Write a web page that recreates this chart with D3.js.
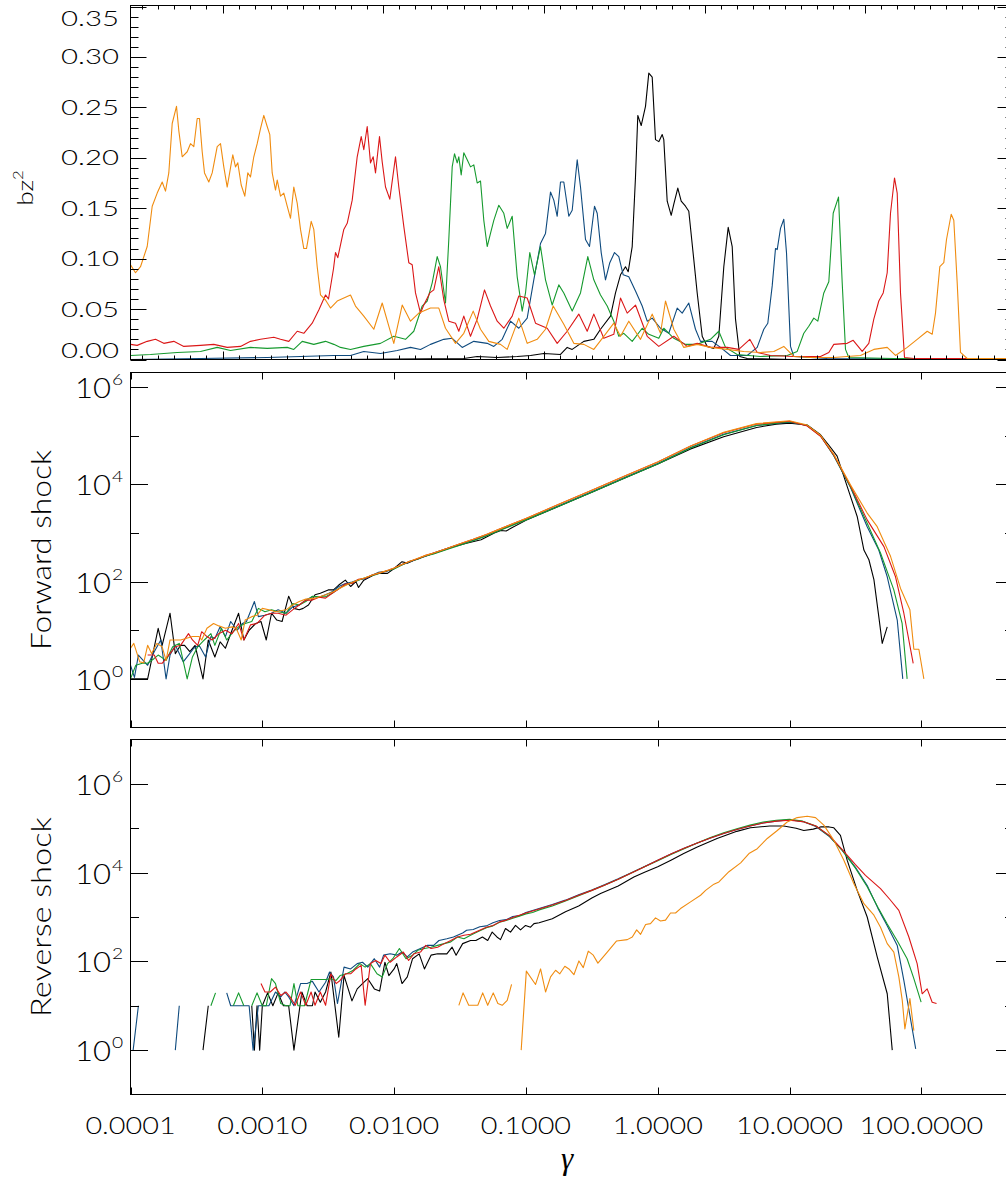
<!DOCTYPE html>
<html><head><meta charset="utf-8">
<script src="https://cdn.jsdelivr.net/npm/d3@7"></script>
<style>body{margin:0;background:#fff}svg{display:block}text{font-family:Lato,"DejaVu Sans",sans-serif;font-weight:300;fill:#000}</style>
</head><body>
<script>
// ---------------- DATA ----------------
// Top panel: bz^2 profiles, [position (grid units), bz^2]
const bzOrange=[[0,0.094],[5,0.086],[10,0.092],[16.7,0.112],[21.7,0.152],[26.7,0.165],[31.7,0.176],[35,0.167],[38.3,0.185],[41.7,0.234],[46,0.251],[48.3,0.227],[51.7,0.201],[56.7,0.206],[60,0.214],[63.3,0.211],[66.7,0.239],[69,0.239],[71.7,0.206],[74,0.185],[78.3,0.176],[81.7,0.185],[86.7,0.211],[90,0.214],[93.3,0.191],[96.7,0.171],[100,0.190],[102.3,0.203],[105,0.191],[107.3,0.195],[110.7,0.173],[114.3,0.162],[117.3,0.185],[120,0.181],[123.3,0.201],[126.7,0.214],[130,0.229],[133.3,0.242],[136.7,0.231],[139.3,0.223],[141.7,0.185],[145,0.168],[146.7,0.178],[150,0.162],[153.3,0.165],[156.7,0.152],[160,0.140],[163.3,0.171],[166.7,0.155],[170,0.129],[173.3,0.110],[176,0.110],[180.7,0.137],[183.3,0.129],[186.7,0.092],[190,0.064],[195,0.059],[200,0.051],[206.7,0.058],[220,0.064],[225,0.053],[233.3,0.043],[243.3,0.030],[251.7,0.056],[258.3,0.033],[263.3,0.016],[271.7,0.054],[280,0.038],[288.3,0.046],[300,0.051],[308.3,0.051],[315,0.031],[325,0.016],[333.3,0.026],[342.7,0.048],[350,0.030],[358.3,0.018],[370,0.015],[376.7,0.010],[388.3,0.041],[396.7,0.016],[406.7,0.020],[415,0.030],[422.7,0.053],[433.3,0.035],[443.3,0.016],[453.3,0.015],[463.3,0.010],[473.3,0.023],[483.3,0.036],[490,0.023],[498.3,0.038],[510,0.020],[521.7,0.045],[530,0.026],[535,0.058],[543.3,0.030],[553.3,0.012],[566.7,0.015],[580,0.012],[596.7,0.010],[613.3,0.008],[630,0.007],[643.3,0.008],[653.3,0.013],[663.3,0.003],[680,0.002],[703.3,0.002],[730,0.004],[743.3,0.010],[756.7,0.012],[765,0.004],[776.7,0.012],[786.7,0.020],[796.7,0.028],[801.7,0.025],[805,0.046],[809.3,0.092],[813.3,0.096],[816,0.119],[820.7,0.144],[823.3,0.138],[826.7,0.076],[830,0.007],[836.7,0.001],[883,0.001]];
const bzRed=[[0,0.015],[6.7,0.014],[16.7,0.018],[25,0.020],[33.3,0.016],[43.3,0.018],[53.3,0.013],[70,0.014],[83.3,0.015],[96.7,0.012],[110,0.013],[120,0.018],[130,0.020],[143.3,0.022],[150,0.020],[158.3,0.018],[166.7,0.028],[173.3,0.026],[181.7,0.036],[188.3,0.049],[195,0.064],[198,0.060],[203,0.090],[205,0.106],[207.3,0.101],[213.3,0.129],[216.7,0.135],[221.7,0.158],[226.7,0.201],[230.7,0.221],[233.3,0.208],[236.7,0.231],[240,0.195],[242.7,0.201],[245,0.185],[249,0.221],[251.7,0.196],[255,0.171],[259.3,0.159],[265,0.201],[268.3,0.171],[273.3,0.132],[278.3,0.096],[281.7,0.094],[285,0.066],[290,0.046],[293.3,0.054],[299.3,0.066],[303.3,0.069],[308.3,0.092],[313.3,0.059],[318.3,0.038],[325,0.036],[328.3,0.028],[333.3,0.043],[340,0.023],[346.7,0.040],[354,0.069],[360,0.053],[366.7,0.038],[373.3,0.031],[381.7,0.043],[388.3,0.063],[396.7,0.061],[405,0.036],[416.7,0.031],[426.7,0.016],[436.7,0.028],[448.3,0.045],[456.7,0.028],[463.3,0.045],[473.3,0.021],[483.3,0.025],[490,0.061],[496.7,0.046],[505,0.054],[516.7,0.023],[528.3,0.013],[543.3,0.023],[556.7,0.013],[566.7,0.016],[580,0.012],[596.7,0.012],[608.3,0.010],[619.3,0.020],[626.7,0.007],[640,0.004],[663.3,0.003],[690,0.003],[698.3,0.007],[703.3,0.015],[716.7,0.016],[722.7,0.019],[731.7,0.008],[738.3,0.016],[743.3,0.040],[748.3,0.058],[752.7,0.066],[756.7,0.086],[760,0.145],[764,0.180],[766.7,0.165],[770,0.066],[774,0.002],[783.3,0.001],[883,0.001]];
const bzGreen=[[0,0.004],[20,0.005],[46.7,0.007],[70,0.008],[86.7,0.012],[100,0.009],[120,0.012],[136.7,0.011],[156.7,0.012],[163.3,0.010],[171.7,0.018],[183.3,0.015],[195,0.018],[203.3,0.015],[210,0.012],[220,0.010],[233.3,0.013],[250,0.016],[263.3,0.023],[275,0.020],[283.3,0.028],[291.7,0.053],[296.7,0.058],[301.7,0.076],[306.7,0.102],[310,0.092],[315,0.056],[318.3,0.119],[321.7,0.191],[324,0.204],[326.7,0.195],[328.3,0.201],[330.7,0.183],[333.3,0.205],[336.7,0.198],[340,0.191],[343.3,0.193],[346.7,0.175],[350,0.177],[353.3,0.138],[356.7,0.112],[360,0.125],[363.3,0.138],[368.3,0.153],[373.3,0.145],[376.7,0.130],[381.7,0.142],[386.7,0.082],[391.7,0.048],[395,0.066],[399.3,0.106],[404,0.084],[410,0.112],[415,0.079],[421.7,0.054],[428.3,0.074],[433.3,0.066],[441.7,0.048],[450,0.066],[457.3,0.102],[463.3,0.079],[470,0.064],[476.7,0.053],[483.3,0.038],[488.3,0.023],[493.3,0.026],[501.7,0.018],[511.7,0.031],[518.3,0.025],[528.3,0.021],[533.3,0.031],[543.3,0.021],[555,0.015],[566.7,0.015],[580,0.020],[588.3,0.028],[595,0.012],[606.7,0.005],[630,0.003],[656.7,0.004],[666.7,0.008],[673.3,0.026],[678.3,0.033],[683.3,0.041],[687.3,0.038],[693.3,0.066],[698.3,0.077],[702.7,0.145],[708,0.161],[711.7,0.076],[715,0.010],[718.3,0.002],[763.3,0.001],[883,0.001]];
const bzBlue=[[0,0.0],[70,0.001],[136.7,0.002],[203.3,0.004],[220,0.004],[233.3,0.008],[250,0.006],[266.7,0.009],[280,0.012],[290,0.010],[300,0.015],[313.3,0.020],[321.7,0.021],[331.7,0.012],[343.3,0.018],[356.7,0.016],[363.3,0.013],[371.7,0.020],[380,0.038],[388.3,0.031],[396.7,0.041],[403.3,0.079],[410,0.115],[415,0.125],[420,0.166],[423.3,0.158],[426.7,0.142],[430,0.176],[433.3,0.176],[438.3,0.142],[441.7,0.148],[446.7,0.198],[450,0.171],[455,0.119],[459,0.112],[464,0.152],[466.7,0.145],[470.7,0.106],[475,0.079],[479.3,0.096],[484,0.106],[488.3,0.102],[492.7,0.084],[498.3,0.082],[505,0.068],[511.7,0.053],[516.7,0.038],[521.7,0.041],[530,0.031],[538.3,0.026],[546.7,0.051],[551.7,0.046],[558.3,0.056],[565,0.030],[570,0.018],[581.7,0.018],[590,0.012],[600,0.004],[616.7,0.004],[626.7,0.012],[633.3,0.030],[637.3,0.036],[641.7,0.073],[645,0.110],[646.7,0.109],[650,0.130],[653.3,0.139],[656,0.106],[660,0.013],[663.3,0.003],[696.7,0.001],[883,0.0]];
const bzBlack=[[0,0.0],[200,0.0],[333.3,0.001],[346.7,0.003],[366.7,0.002],[386.7,0.003],[400,0.004],[413.3,0.006],[430,0.005],[436.7,0.012],[441.7,0.010],[453.3,0.018],[463.3,0.020],[470,0.030],[480,0.043],[485,0.066],[490,0.084],[495,0.092],[497.7,0.087],[501.7,0.112],[505,0.181],[507.3,0.242],[510.7,0.232],[515,0.251],[518.3,0.284],[521.7,0.280],[525,0.218],[528.3,0.216],[531.7,0.223],[533.3,0.218],[536.7,0.157],[540.7,0.143],[543.3,0.154],[547.3,0.170],[550.7,0.157],[555,0.152],[558.3,0.147],[563.3,0.099],[566.7,0.066],[571.7,0.023],[576.7,0.013],[583.3,0.011],[588.3,0.023],[593.3,0.092],[597.7,0.131],[601.7,0.112],[605,0.040],[609.3,0.003],[616.7,0.001],[663.3,0.0],[883,0.0]];

// Forward shock spectra: [log10 gamma, log10 N]
const fsBlack=[[-4.00,0],[-3.95,0],[-3.90,0],[-3.87,0],[-3.79,1.04],[-3.76,0.69],[-3.70,1.35],[-3.66,0.52],[-3.62,0.69],[-3.59,0.69],[-3.55,0.56],[-3.51,0.69],[-3.45,0.0],[-3.41,0.80],[-3.36,0.45],[-3.32,0.76],[-3.28,0.63],[-3.23,1.0],[-3.18,1.35],[-3.14,0.80],[-3.10,1.0],[-3.05,1.14],[-3.01,1.18],[-2.97,0.80],[-2.93,1.35],[-2.89,1.21],[-2.85,1.18],[-2.80,1.70],[-2.76,1.45],[-2.72,1.42],[-2.69,1.45],[-2.65,1.52],[-2.60,1.73],[-2.56,1.76],[-2.50,1.83],[-2.46,1.83],[-2.42,1.93],[-2.37,2.03],[-2.33,1.90],[-2.29,2.0],[-2.27,1.88],[-2.23,2.03],[-2.18,2.10],[-2.13,2.17],[-2.05,2.17],[-2.00,2.27],[-1.94,2.41],[-1.90,2.38],[-1.84,2.45],[-1.77,2.52],[-1.70,2.58],[-1.62,2.65],[-1.55,2.72],[-1.45,2.79],[-1.34,2.86],[-1.24,3.0],[-1.19,3.05],[-1.15,3.04],[-1.10,3.12],[-1.0,3.26],[-0.75,3.55],[-0.5,3.84],[-0.25,4.13],[0,4.42],[0.25,4.73],[0.5,4.98],[0.75,5.17],[0.9,5.24],[1.0,5.26],[1.134,5.22],[1.235,5.02],[1.30,4.80],[1.361,4.58],[1.437,3.96],[1.513,3.34],[1.564,2.65],[1.602,2.45],[1.640,2.04],[1.677,1.28],[1.703,0.73],[1.741,1.07]];
const fsBlue=[[-4.00,0.28],[-3.97,0.03],[-3.94,0.49],[-3.87,0.28],[-3.82,0.56],[-3.77,0.80],[-3.73,0.0],[-3.70,0.49],[-3.66,0.69],[-3.60,0.35],[-3.56,0.49],[-3.52,0.63],[-3.48,0.69],[-3.43,0.45],[-3.39,0.87],[-3.36,0.83],[-3.32,1.07],[-3.28,0.87],[-3.24,1.18],[-3.19,1.0],[-3.15,1.14],[-3.12,1.18],[-3.06,1.59],[-3.03,1.28],[-2.98,1.31],[-2.93,1.35],[-2.88,1.42],[-2.82,1.35],[-2.77,1.48],[-2.72,1.52],[-2.67,1.62],[-2.62,1.69],[-2.57,1.68],[-2.52,1.73],[-2.47,1.79],[-2.42,1.90],[-2.37,1.96],[-2.32,1.99],[-2.27,2.04],[-2.22,2.06],[-2.17,2.13],[-2.12,2.19],[-2.06,2.21],[-2.00,2.27],[-1.94,2.35],[-1.88,2.41],[-1.82,2.47],[-1.76,2.52],[-1.70,2.59],[-1.60,2.68],[-1.50,2.77],[-1.40,2.85],[-1.30,2.95],[-1.20,3.06],[-1.0,3.28],[-0.75,3.56],[-0.5,3.85],[-0.25,4.14],[0,4.43],[0.25,4.76],[0.5,5.03],[0.75,5.21],[1.0,5.28],[1.134,5.21],[1.235,5.00],[1.336,4.59],[1.462,3.94],[1.589,3.13],[1.677,2.65],[1.741,2.10],[1.817,1.21],[1.859,0.0]];
const fsGreen=[[-4.00,0],[-3.96,0.28],[-3.91,0.32],[-3.87,0.32],[-3.82,0.42],[-3.79,0.49],[-3.73,0.38],[-3.68,0.66],[-3.63,0.73],[-3.57,0],[-3.53,0.45],[-3.49,0.66],[-3.44,0.80],[-3.39,0.93],[-3.36,0.69],[-3.31,1.04],[-3.27,0.80],[-3.22,0.97],[-3.18,1.07],[-3.13,1.14],[-3.08,1.18],[-3.03,1.45],[-2.98,1.38],[-2.93,1.42],[-2.88,1.38],[-2.82,1.35],[-2.77,1.55],[-2.72,1.52],[-2.67,1.59],[-2.62,1.70],[-2.57,1.69],[-2.52,1.69],[-2.47,1.76],[-2.42,1.86],[-2.37,1.93],[-2.32,1.97],[-2.27,2.03],[-2.22,2.08],[-2.17,2.12],[-2.12,2.16],[-2.06,2.22],[-2.00,2.26],[-1.94,2.34],[-1.88,2.42],[-1.82,2.46],[-1.76,2.53],[-1.70,2.57],[-1.60,2.66],[-1.50,2.75],[-1.40,2.84],[-1.30,2.94],[-1.20,3.05],[-1.0,3.27],[-0.75,3.55],[-0.5,3.84],[-0.25,4.13],[0,4.42],[0.25,4.75],[0.5,5.02],[0.75,5.21],[1.0,5.29],[1.134,5.21],[1.235,5.00],[1.336,4.59],[1.462,3.95],[1.589,3.20],[1.690,2.59],[1.791,1.83],[1.854,1.14],[1.892,0]];
const fsRed=[[-3.87,0.49],[-3.82,0.49],[-3.79,0.32],[-3.76,0.32],[-3.71,0.49],[-3.66,0.66],[-3.62,0.69],[-3.56,0.93],[-3.53,0.80],[-3.49,0.69],[-3.46,0.97],[-3.42,0.87],[-3.38,0.80],[-3.33,0.93],[-3.28,1.0],[-3.23,0.93],[-3.18,1.14],[-3.14,0.80],[-3.09,1.11],[-3.04,1.14],[-2.98,1.31],[-2.93,1.35],[-2.88,1.35],[-2.82,1.31],[-2.77,1.42],[-2.72,1.52],[-2.67,1.62],[-2.62,1.62],[-2.57,1.68],[-2.52,1.66],[-2.47,1.76],[-2.42,1.85],[-2.37,1.95],[-2.32,1.96],[-2.27,2.05],[-2.22,2.07],[-2.17,2.13],[-2.12,2.17],[-2.06,2.22],[-2.00,2.28],[-1.94,2.35],[-1.88,2.42],[-1.82,2.47],[-1.76,2.54],[-1.70,2.59],[-1.60,2.68],[-1.50,2.78],[-1.40,2.87],[-1.30,2.97],[-1.20,3.08],[-1.0,3.30],[-0.75,3.59],[-0.5,3.88],[-0.25,4.17],[0,4.46],[0.25,4.79],[0.5,5.06],[0.75,5.24],[1.0,5.30],[1.134,5.20],[1.235,4.99],[1.336,4.60],[1.462,3.97],[1.589,3.27],[1.716,2.72],[1.804,2.10],[1.867,1.35],[1.938,0.32]];
const fsOrange=[[-4.00,0.63],[-3.975,0.73],[-3.93,0.35],[-3.90,0.33],[-3.87,0.69],[-3.84,0.52],[-3.80,0.73],[-3.76,0.66],[-3.73,0.38],[-3.70,0.80],[-3.66,0.80],[-3.62,0.80],[-3.58,0.83],[-3.53,0.87],[-3.48,0.87],[-3.46,0.80],[-3.42,1.04],[-3.37,1.14],[-3.33,1.09],[-3.28,1.04],[-3.23,1.07],[-3.20,1.05],[-3.16,0.80],[-3.13,1.21],[-3.08,1.28],[-3.04,1.31],[-3.00,1.45],[-2.95,1.42],[-2.90,1.38],[-2.82,1.42],[-2.77,1.52],[-2.72,1.59],[-2.67,1.64],[-2.60,1.66],[-2.52,1.73],[-2.46,1.79],[-2.40,1.88],[-2.34,1.96],[-2.28,2.03],[-2.22,2.08],[-2.16,2.14],[-2.10,2.19],[-2.04,2.24],[-2.00,2.28],[-1.94,2.35],[-1.88,2.42],[-1.82,2.48],[-1.76,2.54],[-1.70,2.59],[-1.60,2.68],[-1.50,2.78],[-1.40,2.87],[-1.30,2.97],[-1.20,3.08],[-1.0,3.30],[-0.75,3.59],[-0.5,3.88],[-0.25,4.17],[0,4.46],[0.25,4.79],[0.5,5.07],[0.75,5.25],[1.0,5.31],[1.134,5.22],[1.235,5.01],[1.336,4.62],[1.462,3.99],[1.589,3.41],[1.665,3.13],[1.766,2.52],[1.842,1.86],[1.913,1.42],[1.943,0.61],[1.981,0.61],[2.019,0]];

// Reverse shock spectra: [log10 gamma, log10 N]; null = empty bins (gap)
const rsBlack=[[-3.45,0],[-3.41,1.0],null,[-3.08,1.0],[-3.06,0],[-3.04,1.0],[-3.02,0],[-3.00,1.0],[-2.96,1.29],[-2.92,1.0],[-2.88,1.29],[-2.84,1.0],[-2.80,1.0],[-2.76,0],[-2.70,1.31],[-2.66,1.0],[-2.62,1.0],[-2.60,1.31],[-2.56,1.08],[-2.52,1.31],[-2.48,1.76],[-2.42,0.29],[-2.38,1.68],[-2.32,1.11],[-2.28,1.38],[-2.24,1.50],[-2.20,1.61],[-2.15,1.38],[-2.11,1.33],[-2.07,1.98],[-2.04,1.68],[-2.00,1.83],[-1.98,1.95],[-1.94,1.50],[-1.90,1.65],[-1.86,2.06],[-1.81,2.17],[-1.77,1.83],[-1.72,2.14],[-1.67,2.17],[-1.60,2.17],[-1.56,2.32],[-1.53,2.14],[-1.48,2.40],[-1.42,2.47],[-1.38,2.47],[-1.33,2.55],[-1.29,2.47],[-1.256,2.66],[-1.22,2.55],[-1.193,2.49],[-1.155,2.74],[-1.117,2.66],[-1.079,2.81],[-1.041,2.71],[-1.003,2.81],[-0.965,2.77],[-0.939,2.85],[-0.9,2.87],[-0.8,2.96],[-0.7,3.12],[-0.6,3.25],[-0.5,3.43],[-0.434,3.53],[-0.3,3.70],[-0.181,3.90],[-0.1,4.01],[0,4.13],[0.1,4.28],[0.197,4.43],[0.3,4.58],[0.45,4.77],[0.6,4.93],[0.703,5.01],[0.85,5.05],[0.956,5.05],[1.05,5.0],[1.108,4.95],[1.18,4.98],[1.235,5.03],[1.30,5.03],[1.336,5.01],[1.386,4.84],[1.437,4.28],[1.513,3.60],[1.589,3.0],[1.665,2.10],[1.741,1.27],[1.779,0.0]];
const rsBlue=[[-3.98,0],[-3.94,1.0],null,[-3.66,0],[-3.63,1.0],null,[-3.27,1.29],[-3.24,1.0],[-3.19,1.0],[-3.15,1.0],[-3.10,1.0],[-3.07,0],[-3.03,1.0],[-2.99,1.0],[-2.95,1.0],[-2.90,1.31],[-2.86,1.20],[-2.83,1.31],[-2.80,1.20],[-2.76,1.0],[-2.71,1.50],[-2.66,1.50],[-2.62,1.55],[-2.57,1.31],[-2.52,1.53],[-2.49,1.76],[-2.46,1.65],[-2.43,1.05],[-2.38,1.87],[-2.33,1.83],[-2.28,1.95],[-2.24,1.98],[-2.20,1.87],[-2.15,2.06],[-2.11,1.87],[-2.08,2.14],[-2.03,2.17],[-1.98,2.14],[-1.94,2.21],[-1.90,2.10],[-1.86,2.21],[-1.80,2.29],[-1.75,2.36],[-1.70,2.36],[-1.66,2.47],[-1.60,2.51],[-1.55,2.55],[-1.48,2.64],[-1.45,2.70],[-1.40,2.72],[-1.35,2.78],[-1.30,2.80],[-1.25,2.87],[-1.20,2.92],[-1.15,2.94],[-1.10,3.01],[-1.05,3.03],[-1.0,3.10],[-0.9,3.19],[-0.8,3.28],[-0.7,3.38],[-0.6,3.50],[-0.5,3.61],[-0.4,3.73],[-0.3,3.86],[-0.2,4.00],[-0.1,4.14],[0,4.28],[0.1,4.42],[0.2,4.55],[0.3,4.67],[0.4,4.78],[0.5,4.88],[0.6,4.97],[0.7,5.05],[0.8,5.12],[0.9,5.16],[1.0,5.19],[1.1,5.15],[1.2,5.04],[1.3,4.82],[1.4,4.50],[1.5,4.12],[1.589,3.71],[1.67,3.20],[1.74,2.81],[1.817,2.36],[1.867,1.57],[1.957,0.03]];
const rsGreen=[[-3.39,1.0],[-3.355,1.29],null,[-3.22,1.0],[-3.18,1.29],[-3.14,1.0],null,[-3.08,1.0],[-3.04,1.29],[-3.00,1.0],[-2.97,1.0],[-2.93,1.61],[-2.90,1.50],[-2.86,1.05],[-2.82,1.0],[-2.79,1.0],[-2.76,1.50],[-2.73,1.0],[-2.68,1.0],[-2.63,1.59],[-2.58,1.59],[-2.52,1.59],[-2.48,1.61],[-2.44,1.57],[-2.41,1.68],[-2.36,1.72],[-2.31,1.80],[-2.26,1.95],[-2.22,1.87],[-2.18,1.95],[-2.13,1.72],[-2.09,1.65],[-2.05,1.95],[-2.01,2.06],[-1.96,2.29],[-1.91,2.06],[-1.86,2.14],[-1.82,2.25],[-1.77,2.29],[-1.72,2.32],[-1.67,2.36],[-1.62,2.40],[-1.57,2.44],[-1.52,2.55],[-1.47,2.51],[-1.42,2.59],[-1.37,2.66],[-1.30,2.76],[-1.25,2.80],[-1.20,2.88],[-1.15,2.92],[-1.10,2.97],[-1.05,3.02],[-1.0,3.07],[-0.95,3.10],[-0.9,3.16],[-0.8,3.25],[-0.7,3.36],[-0.6,3.48],[-0.5,3.60],[-0.4,3.72],[-0.3,3.85],[-0.2,3.99],[-0.1,4.13],[0,4.27],[0.1,4.41],[0.2,4.54],[0.3,4.67],[0.4,4.79],[0.5,4.90],[0.6,4.99],[0.7,5.07],[0.8,5.14],[0.9,5.18],[1.0,5.20],[1.1,5.16],[1.2,5.05],[1.3,4.83],[1.4,4.50],[1.5,4.10],[1.589,3.68],[1.67,3.22],[1.740,2.85],[1.82,2.45],[1.892,2.06],[1.943,1.61],[1.998,1.08]];
const rsRed=[[-3.01,1.50],[-2.98,1.31],[-2.94,1.31],[-2.90,1.42],[-2.86,1.23],[-2.82,1.31],[-2.79,1.20],[-2.75,1.01],[-2.71,1.31],[-2.67,1.01],[-2.63,1.31],[-2.60,1.01],[-2.56,1.31],[-2.52,1.01],[-2.48,1.72],[-2.44,1.50],[-2.41,1.57],[-2.37,1.72],[-2.33,1.72],[-2.29,1.83],[-2.25,1.91],[-2.22,1.01],[-2.18,1.95],[-2.14,2.02],[-2.10,1.95],[-2.07,2.14],[-2.03,1.98],[-1.98,2.10],[-1.93,2.21],[-1.89,2.02],[-1.85,2.17],[-1.80,2.21],[-1.76,2.36],[-1.72,2.29],[-1.67,2.32],[-1.62,2.40],[-1.57,2.47],[-1.52,2.55],[-1.47,2.59],[-1.42,2.61],[-1.36,2.69],[-1.30,2.77],[-1.25,2.81],[-1.20,2.89],[-1.15,2.93],[-1.10,2.99],[-1.05,3.04],[-1.0,3.09],[-0.9,3.18],[-0.8,3.27],[-0.7,3.37],[-0.6,3.49],[-0.5,3.60],[-0.4,3.72],[-0.3,3.85],[-0.2,3.99],[-0.1,4.13],[0,4.28],[0.1,4.42],[0.2,4.55],[0.3,4.67],[0.4,4.78],[0.5,4.88],[0.6,4.97],[0.7,5.05],[0.8,5.12],[0.9,5.16],[1.0,5.18],[1.1,5.15],[1.2,5.05],[1.3,4.84],[1.4,4.52],[1.5,4.18],[1.576,3.94],[1.690,3.64],[1.76,3.40],[1.829,3.15],[1.905,2.55],[1.968,1.95],[2.006,1.27],[2.044,1.38],[2.082,1.08],[2.115,1.05]];
const rsOrange=[[-1.509,1.01],[-1.477,1.29],[-1.434,1.01],[-1.365,1.01],[-1.328,1.29],[-1.290,1.01],[-1.248,1.29],[-1.213,1.05],[-1.180,1.01],[-1.142,1.12],[-1.109,1.48],null,[-1.036,0],[-0.997,1.78],[-0.927,1.48],[-0.889,1.83],[-0.851,1.31],[-0.813,1.65],[-0.775,1.80],[-0.743,1.72],[-0.705,1.89],[-0.674,1.83],[-0.636,1.70],[-0.598,2.01],[-0.565,1.86],[-0.527,2.23],[-0.489,2.14],[-0.454,1.96],[-0.383,2.21],[-0.312,2.46],[-0.231,2.49],[-0.193,2.55],[-0.160,2.71],[-0.130,2.61],[-0.092,2.83],[-0.055,2.85],[-0.017,2.98],[0.021,2.91],[0.059,2.93],[0.097,3.09],[0.135,3.09],[0.173,3.19],[0.249,3.34],[0.325,3.49],[0.363,3.60],[0.426,3.74],[0.464,3.79],[0.540,4.02],[0.629,4.22],[0.692,4.43],[0.755,4.54],[0.831,4.77],[0.907,4.95],[0.982,5.14],[1.058,5.24],[1.134,5.27],[1.197,5.24],[1.260,5.07],[1.336,4.73],[1.412,4.28],[1.488,3.75],[1.564,3.30],[1.640,3.04],[1.690,2.77],[1.741,2.40],[1.791,2.21],[1.829,1.65],[1.855,1.12],[1.875,0.48],[1.913,1.16],[1.943,0.44]];

// Tick values / labels
const topYTicks=[0,0.05,0.10,0.15,0.20,0.25,0.30,0.35];
const logYMajor=[1,1e2,1e4,1e6];
const logYExp=["0","2","4","6"];
const logYMinor=[10,1e3,1e5];
const gammaTicks=[1e-4,1e-3,1e-2,1e-1,1,10,100];
const gammaLabels=["0.0001","0.0010","0.0100","0.1000","1.0000","10.0000","100.0000"];
const colors={black:"#000000",blue:"#0e4a7e",green:"#169a2e",red:"#db1717",orange:"#f08c10"};

// ---------------- DRAW ----------------
const W=1006,H=1180,L=130.5,R=1013.5;
const svg=d3.select("body").append("svg").attr("width",W).attr("height",H);
svg.append("rect").attr("width",W).attr("height",H).attr("fill","#fff");

const xTop=d3.scaleLinear().domain([0,883]).range([L,R]);
const yTop=d3.scaleLinear().domain([0,0.351]).range([359.5,5.5]);
const xLog=d3.scaleLog().domain([1e-4,500]).range([L,R]);
const yFwd=d3.scaleLog().domain([0.1,2e6]).range([727.5,372.5]);
const yRev=d3.scaleLog().domain([0.1,1e7]).range([1094.5,739.5]);

function tick(g,x1,y1,x2,y2){g.append("line").attr("x1",x1).attr("y1",y1).attr("x2",x2).attr("y2",y2).attr("stroke","#000").attr("stroke-width",1);}
function label(g,x,y,str,size,sx,anchor){
  return g.append("text").attr("transform",`translate(${x},${y}) scale(${sx},1)`).attr("text-anchor",anchor).attr("font-size",size).text(str);
}
function clip(id,y0,y1){
  svg.append("clipPath").attr("id",id).append("rect").attr("x",L).attr("y",y0).attr("width",R-L).attr("height",y1-y0);
}

// ---- top panel ----
const gT=svg.append("g");
clip("cT",5.5,359.5);
const lineT=d3.line().x(d=>xTop(d[0])).y(d=>yTop(d[1]));
const topSeries=[[bzBlack,"black"],[bzBlue,"blue"],[bzGreen,"green"],[bzRed,"red"],[bzOrange,"orange"]];
const gTL=gT.append("g").attr("clip-path","url(#cT)");
topSeries.forEach(([d,c])=>gTL.append("path").attr("d",lineT(d)).attr("fill","none").attr("stroke",colors[c]).attr("stroke-width",1.1).attr("stroke-linejoin","round"));
gT.append("rect").attr("x",L).attr("y",5.5).attr("width",R-L).attr("height",354).attr("fill","none").attr("stroke","#000");
d3.range(0,36).forEach(i=>{const v=i*0.01;const y=Math.round(yTop(v))+0.5;const len=(i%5===0)?16:8;
  tick(gT,L,y,L+len,y);tick(gT,R,y,R-len,y);});
topYTicks.forEach(v=>{const y=Math.max(18.8,Math.min(350.8,yTop(v)));label(gT,119,y+7.5,d3.format(".2f")(v),21,1.4,"end");});
d3.range(0,55).forEach(i=>{const u=11.65+i*16.07;if(u>883)return;const x=Math.round(xTop(u))+0.5;const len=(i%10===5)?8:4;
  tick(gT,x,5.5,x,5.5+len);tick(gT,x,359.5,x,359.5-len);});
const tt=gT.append("text").attr("transform","translate(33,188) rotate(-90) scale(1.2,1)").attr("text-anchor","middle").attr("font-size",22);
tt.append("tspan").text("bz");
tt.append("tspan").attr("dy",-10).attr("font-size",14).text("2");

// ---- log panels ----
function logPanel(yScale,y0,y1,data,id,title){
  const g=svg.append("g");
  clip(id,y0,y1);
  const gl=g.append("g").attr("clip-path",`url(#${id})`);
  const line=d3.line().defined(d=>d!==null).x(d=>xLog(10**d[0])).y(d=>yScale(10**d[1]));
  data.forEach(([d,c])=>gl.append("path").attr("d",line(d)).attr("fill","none").attr("stroke",colors[c]).attr("stroke-width",1.1).attr("stroke-linejoin","round"));
  g.append("rect").attr("x",L).attr("y",y0).attr("width",R-L).attr("height",y1-y0).attr("fill","none").attr("stroke","#000");
  logYMajor.forEach((v,i)=>{const y=Math.round(yScale(v))+0.5;tick(g,L,y,L+17.5,y);tick(g,R,y,R-17.5,y);
    label(g,111,y+10,"10",27,1.15,"end");
    label(g,112,y-3,logYExp[i],16,1.2,"start");});
  logYMinor.forEach(v=>{const y=Math.round(yScale(v))+0.5;tick(g,L,y,L+8.5,y);tick(g,R,y,R-8.5,y);});
  gammaTicks.forEach(v=>{const x=Math.round(xLog(v))+0.5;tick(g,x,y0,x,y0+7);tick(g,x,y1,x,y1-7);});
  g.append("text").attr("transform",`translate(51,${(y0+y1)/2}) rotate(-90)`).attr("text-anchor","middle")
    .attr("font-size",27).attr("textLength",200).attr("lengthAdjust","spacingAndGlyphs").text(title);
  return g;
}
const order=c=>[["black",c.black],["blue",c.blue],["green",c.green],["red",c.red],["orange",c.orange]].map(([k,d])=>[d,k]);
logPanel(yFwd,372.5,727.5,order({black:fsBlack,blue:fsBlue,green:fsGreen,red:fsRed,orange:fsOrange}),"cF","Forward  shock");
const gR=logPanel(yRev,739.5,1094.5,order({black:rsBlack,blue:rsBlue,green:rsGreen,red:rsRed,orange:rsOrange}),"cR","Reverse  shock");

gammaTicks.forEach((v,i)=>label(gR,xLog(v),1134,gammaLabels[i],24,1.2,"middle"));
svg.append("text").attr("x",567).attr("y",1169).attr("text-anchor","middle").attr("font-size",31)
  .attr("font-style","italic").style("font-weight","400").style("font-family","'Liberation Serif','DejaVu Serif',serif").text("γ");
</script>
</body></html>
